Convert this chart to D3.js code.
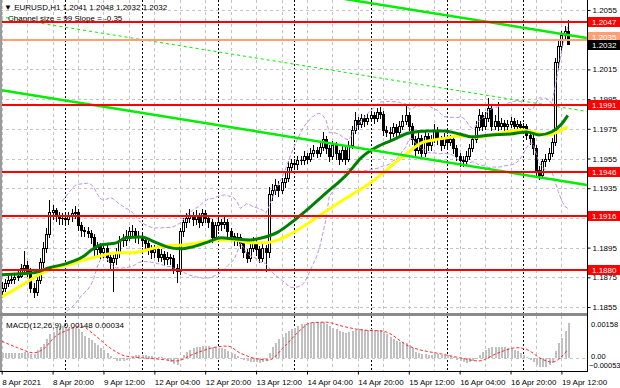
<!DOCTYPE html>
<html lang="en">
<head>
<meta charset="utf-8">
<title>EURUSD H1</title>
<style>
  body { margin: 0; background: #fff; }
  svg text { font-family: "Liberation Sans", Arial, sans-serif; font-size: 8px; }
</style>
</head>
<body>
<div id="chart"></div>
<script src="https://d3js.org/d3.v7.min.js"></script>
<script>
// ---- data ----
var timeLabels = ["8 Apr 2021","8 Apr 20:00","9 Apr 12:00","12 Apr 04:00","12 Apr 20:00","13 Apr 12:00",
                  "14 Apr 04:00","14 Apr 20:00","15 Apr 12:00","16 Apr 04:00","16 Apr 20:00","19 Apr 12:00"];
var timeLabelBars = [0,16,32,48,64,80,96,112,128,144,160,176];
var daySeparators = [20,44,68,92,116,140,164];
var priceTicks = [1.2055,1.2035,1.2015,1.1995,1.1975,1.1955,1.1935,1.1915,1.1895,1.1875,1.1855];
var hiddenTicks = [1.2035,1.1915];   // covered by the level boxes on the axis
var levels = [1.2047,1.1991,1.1946,1.1916,1.1880];
var pivotLevel = 1.2035;
var lastPrice = 1.2032;
var firstOpen = 1.1866;

var closes = [
1.1868,1.1871,1.1873,1.1874,1.1875,1.1876,1.1881,1.1883,1.1879,1.1868,
1.1865,1.1873,1.1885,1.1895,1.1904,1.1919,1.1920,1.1917,1.1915,1.1915,
1.1914,1.1916,1.1918,1.1919,1.1910,1.1907,1.1906,1.1905,1.1902,1.1894,
1.1896,1.1892,1.1895,1.1889,1.1885,1.1888,1.1892,1.1900,1.1900,1.1903,
1.1906,1.1906,1.1903,1.1902,1.1900,1.1898,1.1895,1.1892,1.1894,1.1889,
1.1891,1.1887,1.1889,1.1888,1.1881,1.1879,1.1906,1.1912,1.1915,1.1917,
1.1914,1.1916,1.1912,1.1918,1.1915,1.1912,1.1902,1.1910,1.1912,1.1911,
1.1912,1.1906,1.1903,1.1900,1.1902,1.1898,1.1892,1.1888,1.1895,1.1898,
1.1894,1.1888,1.1895,1.1892,1.1931,1.1934,1.1937,1.1934,1.1939,1.1942,
1.1949,1.1952,1.1951,1.1954,1.1954,1.1957,1.1955,1.1959,1.1961,1.1959,
1.1963,1.1968,1.1962,1.1957,1.1964,1.1959,1.1955,1.1961,1.1955,1.1964,
1.1974,1.1981,1.1978,1.1982,1.1980,1.1982,1.1984,1.1982,1.1986,1.1985,
1.1974,1.1973,1.1972,1.1976,1.1973,1.1977,1.1980,1.1984,1.1977,1.1968,
1.1961,1.1969,1.1959,1.1970,1.1964,1.1968,1.1974,1.1968,1.1964,1.1969,
1.1966,1.1968,1.1962,1.1957,1.1954,1.1953,1.1957,1.1962,1.1968,1.1976,
1.1984,1.1977,1.1982,1.1989,1.1977,1.1980,1.1977,1.1979,1.1977,1.1978,
1.1980,1.1977,1.1978,1.1976,1.1977,1.1971,1.1969,1.1962,1.1947,1.1944,
1.1953,1.1955,1.1959,1.1966,1.2020,1.2031,1.2038,1.2041,1.2032];

var highs = [
1.1872,1.1874,1.1876,1.1878,1.1877,1.1880,1.1884,1.1893,1.1886,1.1881,
1.1871,1.1876,1.1888,1.1899,1.1908,1.1927,1.1924,1.1922,1.1919,1.1918,
1.1918,1.1919,1.1921,1.1923,1.1921,1.1912,1.1909,1.1909,1.1907,1.1904,
1.1899,1.1898,1.1898,1.1897,1.1891,1.1890,1.1895,1.1903,1.1904,1.1907,
1.1909,1.1910,1.1908,1.1906,1.1905,1.1902,1.1900,1.1897,1.1897,1.1896,
1.1894,1.1893,1.1892,1.1891,1.1890,1.1884,1.1908,1.1915,1.1918,1.1921,
1.1919,1.1920,1.1918,1.1921,1.1920,1.1917,1.1914,1.1912,1.1915,1.1914,
1.1916,1.1914,1.1908,1.1905,1.1905,1.1904,1.1900,1.1894,1.1898,1.1902,
1.1900,1.1896,1.1898,1.1897,1.1936,1.1938,1.1941,1.1940,1.1942,1.1945,
1.1953,1.1955,1.1955,1.1957,1.1957,1.1960,1.1959,1.1962,1.1964,1.1963,
1.1966,1.1973,1.1970,1.1964,1.1967,1.1966,1.1961,1.1964,1.1963,1.1967,
1.1977,1.1986,1.1983,1.1985,1.1984,1.1985,1.1987,1.1986,1.1989,1.1990,
1.1987,1.1977,1.1976,1.1979,1.1978,1.1980,1.1984,1.1992,1.1986,1.1979,
1.1970,1.1972,1.1971,1.1973,1.1972,1.1971,1.1978,1.1976,1.1970,1.1972,
1.1971,1.1971,1.1970,1.1964,1.1959,1.1957,1.1960,1.1965,1.1971,1.1980,
1.1988,1.1986,1.1986,1.1996,1.1991,1.1984,1.1993,1.1982,1.1981,1.1981,
1.1983,1.1982,1.1981,1.1980,1.1979,1.1978,1.1973,1.1971,1.1964,1.1950,
1.1955,1.1958,1.1962,1.1969,1.2023,1.2034,1.2041,1.2044,1.2048];

var lows = [
1.1862,1.1866,1.1869,1.1871,1.1871,1.1873,1.1875,1.1879,1.1876,1.1865,
1.1862,1.1863,1.1871,1.1882,1.1892,1.1902,1.1914,1.1913,1.1911,1.1911,
1.1910,1.1911,1.1913,1.1915,1.1907,1.1903,1.1903,1.1902,1.1898,1.1890,
1.1890,1.1888,1.1889,1.1886,1.1881,1.1866,1.1884,1.1889,1.1896,1.1897,
1.1900,1.1902,1.1899,1.1898,1.1896,1.1894,1.1891,1.1888,1.1889,1.1886,
1.1886,1.1884,1.1884,1.1884,1.1878,1.1872,1.1877,1.1903,1.1909,1.1912,
1.1910,1.1911,1.1909,1.1910,1.1912,1.1909,1.1899,1.1900,1.1907,1.1907,
1.1908,1.1903,1.1900,1.1897,1.1897,1.1895,1.1889,1.1885,1.1886,1.1893,
1.1890,1.1885,1.1886,1.1879,1.1889,1.1927,1.1931,1.1930,1.1932,1.1936,
1.1940,1.1946,1.1948,1.1948,1.1951,1.1951,1.1952,1.1953,1.1957,1.1956,
1.1957,1.1961,1.1959,1.1953,1.1955,1.1955,1.1951,1.1953,1.1951,1.1953,
1.1962,1.1972,1.1975,1.1976,1.1977,1.1978,1.1980,1.1979,1.1980,1.1982,
1.1971,1.1970,1.1968,1.1970,1.1970,1.1971,1.1975,1.1978,1.1974,1.1965,
1.1957,1.1959,1.1956,1.1957,1.1961,1.1961,1.1966,1.1965,1.1961,1.1962,
1.1963,1.1964,1.1959,1.1954,1.1950,1.1950,1.1951,1.1955,1.1960,1.1966,
1.1974,1.1974,1.1975,1.1980,1.1974,1.1975,1.1974,1.1975,1.1974,1.1975,
1.1976,1.1974,1.1975,1.1973,1.1974,1.1968,1.1965,1.1958,1.1944,1.1941,
1.1942,1.1950,1.1953,1.1957,1.1964,1.2015,1.2027,1.2035,1.2032];

// moving averages, [bar, price]
var maGreen = [[0,1.18767],[10,1.1878],[15,1.18814],[21,1.18847],[26,1.18895],[28,1.1893],[31,1.18968],
  [36,1.18982],[39,1.19016],[44,1.19022],[48,1.18989],[52,1.18955],[56,1.18942],[60,1.18955],[65,1.18989],
  [69,1.19016],[73,1.19009],[78,1.19002],[82,1.19016],[87,1.19056],[91,1.19117],[96,1.19204],[102,1.19318],
  [109,1.19453],[113,1.19554],[118,1.19628],[123,1.19675],[128,1.19722],[134,1.19736],[139,1.19736],
  [144,1.19715],[148,1.19695],[154,1.19709],[160,1.19715],[165,1.19729],[169,1.19709],[173,1.1973],
  [176,1.1978],[178,1.1984]];
var maYellow = [[0,1.18619],[5,1.18679],[10,1.18746],[15,1.188],[21,1.18834],[26,1.18868],[31,1.18894],
  [36,1.18915],[41,1.18915],[47,1.18942],[52,1.18962],[57,1.18968],[62,1.18982],[68,1.19002],[73,1.19002],
  [78,1.18982],[82,1.18982],[87,1.19002],[91,1.19043],[98,1.19137],[104,1.19224],[110,1.19305],[115,1.19372],
  [120,1.19453],[124,1.19527],[128,1.19594],[132,1.19655],[136,1.19675],[140,1.19689],[144,1.19702],
  [150,1.19695],[157,1.19722],[163,1.19742],[167,1.19729],[171,1.19709],[173,1.19715],[178,1.19763]];

// regression channel, [bar, price]
var channelUpper = [[-0.5,1.20997],[184,1.20362]];
var channelMid = [[-0.5,1.20505],[184,1.19867]];
var channelLower = [[-0.5,1.20012],[184,1.19372]];

// MACD(12,26,9)
var macdHist = [
.00020,.00020,.00019,.00019,.00020,.00020,.00022,.00024,.00022,.00018,
.00016,.00035,.00045,.00057,.00080,.00100,.00110,.00128,.00135,.00135,
.00132,.00130,.00130,.00130,.00125,.00110,.00095,.00085,.00075,.00065,
.00055,.00043,.00032,.00020,.00008,-.00007,-.00013,-.00015,-.00015,-.00012,
-.00005,.00005,.00010,.00010,.00010,.00010,.00008,.00006,.00005,.00003,
.00002,-.00005,-.00012,-.00020,-.00026,-.00030,-.00010,.00010,.00025,.00035,
.00040,.00044,.00047,.00050,.00052,.00050,.00046,.00044,.00042,.00040,
.00036,.00030,.00022,.00015,.00008,-.00003,-.00010,-.00016,-.00018,-.00018,
-.00020,-.00022,-.00018,-.00015,.00020,.00045,.00065,.00080,.00090,.00105,
.00115,.00122,.00130,.00138,.00143,.00146,.00148,.00150,.00152,.00152,
.00153,.00152,.00145,.00138,.00130,.00122,.00115,.00110,.00108,.00110,
.00115,.00120,.00122,.00122,.00121,.00120,.00122,.00120,.00120,.00118,
.00110,.00100,.00090,.00080,.00072,.00068,.00066,.00065,.00055,.00040,
.00026,.00022,.00015,.00015,.00013,.00013,.00015,.00014,.00012,.00012,
.00010,.00008,.00002,-.00008,-.00015,-.00020,-.00021,-.00020,-.00015,-.00005,
.00010,.00025,.00035,.00042,.00045,.00046,.00047,.00046,.00045,.00042,
.00038,.00033,.00028,.00020,.00012,.00002,-.00008,-.00018,-.00030,-.00038,
-.00040,-.00038,-.00033,-.00022,.00030,.00064,.00086,.00114,.00148];
var macdSignal = [[0,.00071],[5,.00043],[10,.00021],[13,.00036],[17,.00093],[21,.0012],[25,.00136],
  [29,.0010],[34,.00043],[39,.00007],[44,0],[50,-.00007],[55,-.00014],[60,.00014],[68,.00047],[71,.0005],
  [75,.0002],[81,-.00007],[84,-.0001],[89,.0005],[94,.0012],[97,.0015],[102,.00153],[107,.00136],
  [113,.0012],[120,.00114],[128,.0005],[139,.00014],[144,0],[150,-.00014],[156,.0002],[162,.00043],
  [165,.00036],[170,-.00007],[173,-.00019],[178,.00034]];
var macdTicks = [0.00158, 0.00, -0.00053];

// ---- layout ----
var W = 620, H = 388, plotR = 587;
var mainTop = 0, mainBot = 313, macdTop = 316, macdBot = 371;

var svg = d3.select("#chart").append("svg")
    .attr("width", W).attr("height", H);

var x = d3.scaleLinear().domain([0, 176]).range([1.7, 561.4]);
var y = d3.scaleLinear().domain([1.1855, 1.2055]).range([307, 10]);
var ym = d3.scaleLinear().domain([-0.00053, 0.00158]).range([370, 321]);

var defs = svg.append("defs");
defs.append("clipPath").attr("id", "clipMain").append("rect")
    .attr("x", 0).attr("y", mainTop).attr("width", plotR).attr("height", mainBot - mainTop);
defs.append("clipPath").attr("id", "clipMacd").append("rect")
    .attr("x", 0).attr("y", macdTop).attr("width", plotR).attr("height", macdBot - macdTop);

var main = svg.append("g").attr("clip-path", "url(#clipMain)");
var sub = svg.append("g").attr("clip-path", "url(#clipMacd)");

// grid
var vGrid = d3.range(0, 185, 8);
[main, sub].forEach(function(g, k) {
  var t = k ? macdTop : mainTop, b = k ? macdBot : mainBot;
  g.selectAll(".vg").data(vGrid).enter().append("line")
    .attr("x1", function(d) { return Math.round(x(d)) + 0.5; })
    .attr("x2", function(d) { return Math.round(x(d)) + 0.5; })
    .attr("y1", t).attr("y2", b)
    .attr("stroke", "#c4c4c4").attr("stroke-dasharray", "3,3");
  g.selectAll(".ds").data(daySeparators).enter().append("line")
    .attr("x1", function(d) { return Math.round(x(d)) + 0.5; })
    .attr("x2", function(d) { return Math.round(x(d)) + 0.5; })
    .attr("y1", t).attr("y2", b)
    .attr("stroke", "#000").attr("stroke-dasharray", "2,2");
});
main.selectAll(".hg").data(priceTicks).enter().append("line")
  .attr("x1", 0).attr("x2", plotR)
  .attr("y1", function(d) { return Math.round(y(d)) + 0.5; })
  .attr("y2", function(d) { return Math.round(y(d)) + 0.5; })
  .attr("stroke", "#c4c4c4").attr("stroke-dasharray", "3,3");
sub.append("line").attr("x1", 0).attr("x2", plotR)
  .attr("y1", Math.round(ym(0)) + 0.5).attr("y2", Math.round(ym(0)) + 0.5)
  .attr("stroke", "#c4c4c4").attr("stroke-dasharray", "3,3");

// candles
var bars = closes.map(function(c, i) {
  return { i: i, o: i ? closes[i - 1] : firstOpen, h: highs[i], l: lows[i], c: c };
});
var cg = main.append("g").attr("shape-rendering", "crispEdges");
bars.forEach(function(d) {
  var xr = Math.round(x(d.i));
  cg.append("line")
    .attr("x1", xr + 0.5).attr("x2", xr + 0.5)
    .attr("y1", Math.round(y(d.h))).attr("y2", Math.round(y(d.l)) + 1)
    .attr("stroke", "#000");
  var top = Math.round(y(Math.max(d.o, d.c))), bot = Math.round(y(Math.min(d.o, d.c)));
  if (bot - top < 1) {
    cg.append("line").attr("x1", xr - 1).attr("x2", xr + 2)
      .attr("y1", top + 0.5).attr("y2", top + 0.5).attr("stroke", "#000");
  } else {
    cg.append("rect")
      .attr("x", xr - 0.5).attr("y", top + 0.5)
      .attr("width", 2).attr("height", bot - top)
      .attr("fill", d.c >= d.o ? "#fff" : "#000")
      .attr("stroke", "#000");
  }
});

// bollinger bands (20, 2) from the closes
var bbUp = [], bbDn = [];
for (var i = 19; i < closes.length; i++) {
  var win = closes.slice(i - 19, i + 1);
  var m = d3.mean(win);
  var sd = Math.sqrt(d3.mean(win, function(v) { return (v - m) * (v - m); }));
  bbUp.push([i, m + 2 * sd]);
  bbDn.push([i, m - 2 * sd]);
}
var line = d3.line().x(function(d) { return x(d[0]); }).y(function(d) { return y(d[1]); });
var smooth = d3.line().curve(d3.curveMonotoneX)
  .x(function(d) { return x(d[0]); }).y(function(d) { return y(d[1]); });

[bbUp, bbDn].forEach(function(b) {
  main.append("path").datum(b).attr("d", line)
    .attr("fill", "none").attr("stroke", "#c08fe8").attr("stroke-width", 1)
    .attr("stroke-dasharray", "4,2");
});

// moving averages
main.append("path").datum(maYellow).attr("d", smooth)
  .attr("fill", "none").attr("stroke", "#ffff00").attr("stroke-width", 3);
main.append("path").datum(maGreen).attr("d", smooth)
  .attr("fill", "none").attr("stroke", "#008000").attr("stroke-width", 3);

// channel
[channelUpper, channelLower].forEach(function(c) {
  main.append("path").datum(c).attr("d", line)
    .attr("fill", "none").attr("stroke", "#00ee00").attr("stroke-width", 2.5);
});
main.append("path").datum(channelMid).attr("d", line)
  .attr("fill", "none").attr("stroke", "#00ee00").attr("stroke-width", 1)
  .attr("stroke-dasharray", "3,3");

// horizontal levels
main.selectAll(".lvl").data(levels).enter().append("line")
  .attr("x1", 0).attr("x2", plotR)
  .attr("y1", function(d) { return Math.round(y(d)); })
  .attr("y2", function(d) { return Math.round(y(d)); })
  .attr("stroke", "#ff0000").attr("stroke-width", 2);
main.append("line").attr("x1", 0).attr("x2", plotR)
  .attr("y1", Math.round(y(pivotLevel))).attr("y2", Math.round(y(pivotLevel)))
  .attr("stroke", "#ff9f73").attr("stroke-width", 2);

// MACD
sub.append("g").attr("shape-rendering", "crispEdges")
  .selectAll("rect").data(macdHist).enter().append("rect")
  .attr("x", function(d, i) { return Math.round(x(i)) - 0.5; })
  .attr("width", 2)
  .attr("y", function(d) { return Math.min(ym(d), ym(0)); })
  .attr("height", function(d) { return Math.abs(ym(d) - ym(0)); })
  .attr("fill", "#c0c0c0");
sub.append("path").datum(macdSignal)
  .attr("d", d3.line().curve(d3.curveMonotoneX)
    .x(function(d) { return x(d[0]); }).y(function(d) { return ym(d[1]); }))
  .attr("fill", "none").attr("stroke", "#ff2a2a").attr("stroke-width", 1)
  .attr("stroke-dasharray", "3,2");

// frame
svg.append("rect").attr("x", 0).attr("y", 0).attr("width", 2).attr("height", macdBot)
  .attr("fill", "#9a9a9a");
svg.append("rect").attr("x", 0).attr("y", mainBot).attr("width", plotR).attr("height", macdTop - mainBot)
  .attr("fill", "#8a8a8a");
svg.append("line").attr("x1", plotR + 0.5).attr("x2", plotR + 0.5).attr("y1", 0).attr("y2", macdBot + 1)
  .attr("stroke", "#000");
svg.append("line").attr("x1", 0).attr("x2", plotR + 1).attr("y1", macdBot + 0.5).attr("y2", macdBot + 0.5)
  .attr("stroke", "#000");

// price axis
var pAxis = svg.append("g").attr("transform", "translate(" + (plotR + 0.5) + ",0)")
  .call(d3.axisRight(y).tickValues(priceTicks).tickSize(3).tickPadding(2)
    .tickFormat(function(d) { return hiddenTicks.indexOf(d) >= 0 ? "" : d3.format(".4f")(d); }));
pAxis.select(".domain").remove();
pAxis.selectAll("text").attr("fill", "#000").style("font-size", "8px");

// MACD axis labels
svg.selectAll(".ml").data(macdTicks).enter().append("text")
  .attr("x", function(d, i) { return i === 2 ? plotR + 2 : plotR + 4; })
  .attr("y", function(d, i) { return [ym(d) + 6, ym(d) + 1, ym(d) - 2][i]; })
  .style("font-size", "7.5px")
  .text(function(d, i) { return i === 1 ? "0.00" : d3.format(".5f")(d); });

// level label boxes
function priceBox(v, fill, fg, dy) {
  var yy = Math.round(y(v)) + dy;
  svg.append("rect").attr("x", plotR + 1).attr("y", yy - 5).attr("width", W - plotR - 1).attr("height", 10)
    .attr("fill", fill);
  svg.append("text").attr("x", plotR + 5).attr("y", yy + 3).attr("fill", fg).text(d3.format(".4f")(v));
}
levels.forEach(function(v) { priceBox(v, "#ff0000", "#fff", 0); });
priceBox(pivotLevel, "#ff9f73", "#fff", -3);
priceBox(lastPrice, "#000", "#fff", 1);

// time axis
var tAxis = svg.append("g").attr("transform", "translate(0," + (macdBot + 0.5) + ")")
  .call(d3.axisBottom(x).tickValues(timeLabelBars).tickSize(3).tickPadding(5)
    .tickFormat(function(d, i) { return timeLabels[i]; }));
tAxis.select(".domain").remove();
tAxis.selectAll("text").attr("text-anchor", "start").attr("fill", "#000").style("font-size", "8px");

// titles
svg.append("text").attr("x", 4).attr("y", 10).text("\u25BC EURUSD,H1  1.2041 1.2048 1.2032 1.2032");
svg.append("text").attr("x", 8).attr("y", 21).text("Channel size = 99 Slope = -0.35");
svg.append("text").attr("x", 6).attr("y", 328).text("MACD(12,26,9) 0.00148 0.00034");
</script>
</body>
</html>
